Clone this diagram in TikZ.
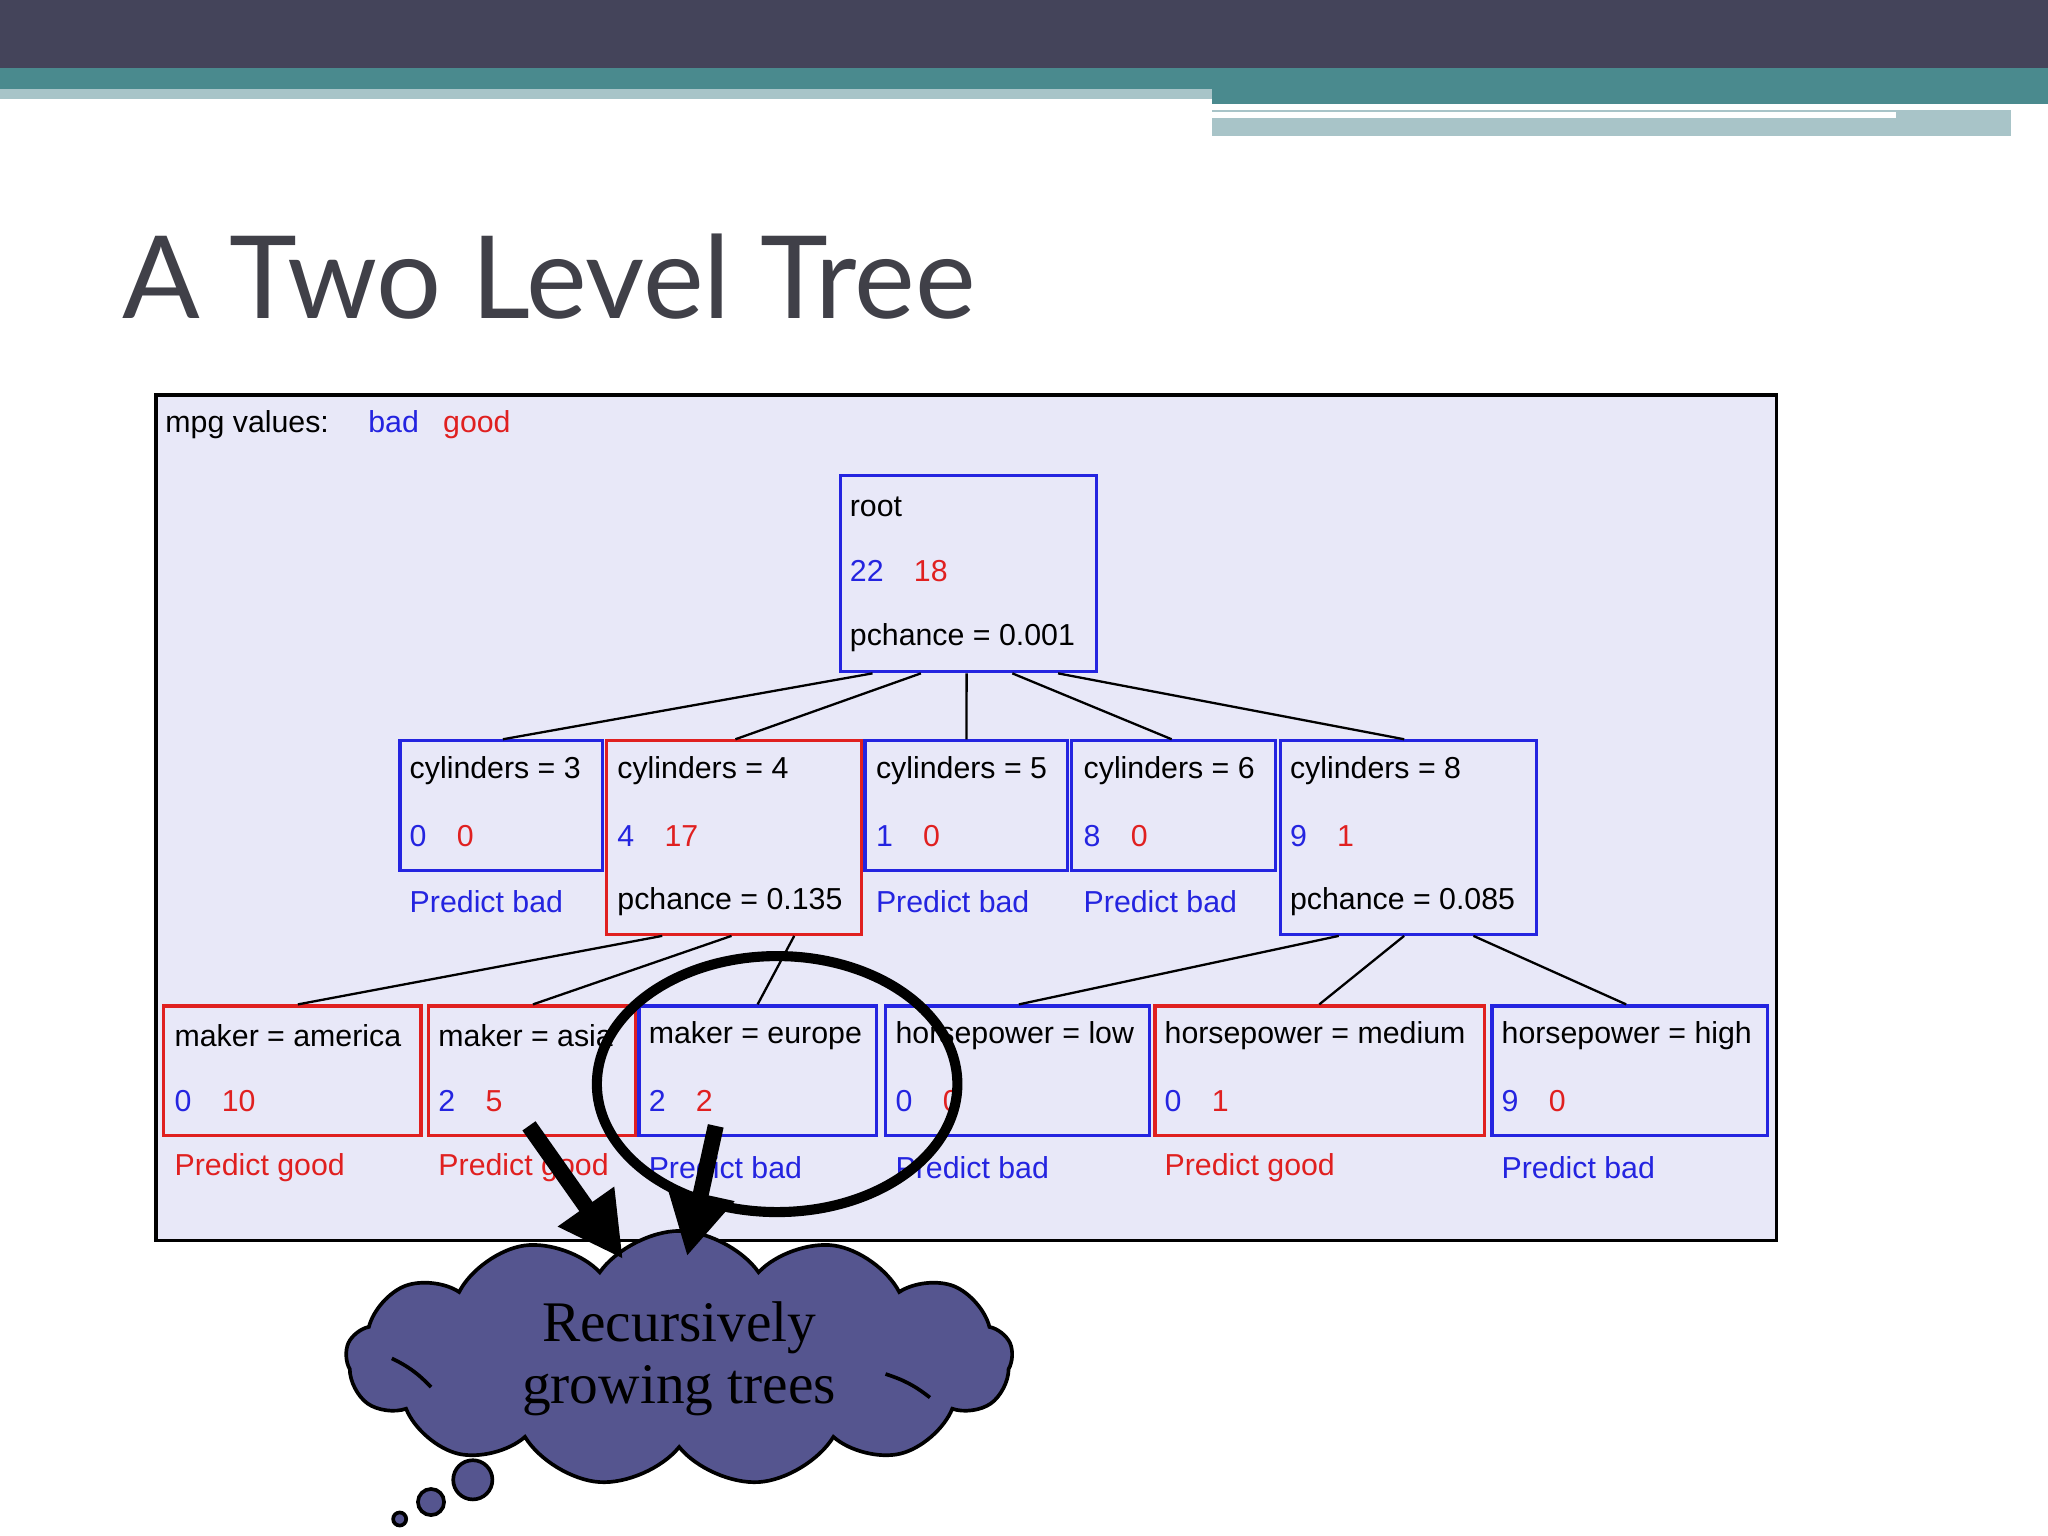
\documentclass[tikz,border=0pt]{standalone}
\usepackage{fontspec}
\setmainfont{Liberation Sans}
\newfontfamily\titlefont{Lato}
\newfontfamily\serifcloud{Liberation Serif}
\usetikzlibrary{shapes.symbols,arrows.meta}
\definecolor{tb}{HTML}{2424E0}
\definecolor{tr}{HTML}{E02020}
\definecolor{panel}{HTML}{E8E8F8}
\definecolor{cloudc}{HTML}{55558F}
\definecolor{hdark}{HTML}{44445A}
\definecolor{hteal}{HTML}{4A8A8E}
\definecolor{hlight}{HTML}{A8C4C8}
\definecolor{ttl}{HTML}{404048}
\tikzset{
 bb/.style={draw=tb,line width=0.7pt,anchor=north west,inner sep=0},
 rb/.style={draw=tr,line width=0.7pt,anchor=north west,inner sep=0},
 tx/.style={anchor=west,font=\fontsize{6.6}{8}\selectfont,inner sep=0},
 edge/.style={line width=0.5pt},
 bigarrow/.style={line width=3.5pt,-{Triangle[length=14pt,width=14pt]}},
}
\newcommand{\tb}[1]{\textcolor{tb}{#1}}
\newcommand{\tr}[1]{\textcolor{tr}{#1}}
\begin{document}
\begin{tikzpicture}[x=0.01cm,y=-0.01cm]
\useasboundingbox (0,0) rectangle (1568,1176);
% header
\fill[hdark] (0,0) rectangle (1568,52);
\fill[hteal] (0,52) rectangle (1568,68);
\fill[hlight] (0,68) rectangle (928,76);
\fill[hteal] (928,68) rectangle (1568,80);
\fill[hlight] (928,84) rectangle (1540,104);
\fill[white] (928,86) rectangle (1452,90);
\node[anchor=west,font=\titlefont\fontsize{25}{30}\selectfont,text=ttl,inner sep=0] (title) at (93,212) {A Two Level Tree};
% panel
\node[draw=black,fill=panel,line width=0.8pt,anchor=north west,minimum width=12.4cm,minimum height=6.47cm,inner sep=0] (panel) at (118,301) {};
\node[tx] (leg) at (126,325) {mpg values:\hspace{1.3em}\tb{bad}\hspace{0.8em}\tr{good}};
% level 0
\node[bb,minimum width=1.96cm,minimum height=1.5cm] (root) at (642,363) {};
\node[tx] at (650,388) {root};
\node[tx] at (650,437) {\tb{22}\hspace{1em}\tr{18}};
\node[tx] at (650,488) {pchance = 0.001};
% level 1
\node[bb,minimum width=1.55cm,minimum height=0.99cm] (c3) at (305,566) {};
\node[rb,minimum width=1.95cm,minimum height=1.48cm] (c4) at (463,566) {};
\node[bb,minimum width=1.55cm,minimum height=0.99cm] (c5) at (661,566) {};
\node[bb,minimum width=1.56cm,minimum height=0.99cm] (c6) at (819,566) {};
\node[bb,minimum width=1.96cm,minimum height=1.48cm] (c8) at (979,566) {};
\node[tx] at (313,590) {cylinders = 3};
\node[tx] at (313,640) {\tb{0}\hspace{1em}\tr{0}};
\node[tx] at (313,690) {\tb{Predict bad}};
\node[tx] at (472,590) {cylinders = 4};
\node[tx] at (472,640) {\tb{4}\hspace{1em}\tr{17}};
\node[tx] at (472,690) {pchance = 0.135};
\node[tx] at (670,590) {cylinders = 5};
\node[tx] at (670,640) {\tb{1}\hspace{1em}\tr{0}};
\node[tx] at (670,690) {\tb{Predict bad}};
\node[tx] at (829,590) {cylinders = 6};
\node[tx] at (829,640) {\tb{8}\hspace{1em}\tr{0}};
\node[tx] at (829,690) {\tb{Predict bad}};
\node[tx] at (987,590) {cylinders = 8};
\node[tx] at (987,640) {\tb{9}\hspace{1em}\tr{1}};
\node[tx] at (987,690) {pchance = 0.085};
% level 2
\node[rb,minimum width=1.97cm,minimum height=0.99cm] (am) at (124,769) {};
\node[rb,minimum width=1.58cm,minimum height=0.99cm] (as) at (327,769) {};
\node[bb,minimum width=1.82cm,minimum height=0.99cm] (eu) at (488,769) {};
\node[bb,minimum width=2.02cm,minimum height=0.99cm] (lo) at (677,769) {};
\node[rb,minimum width=2.52cm,minimum height=0.99cm] (me) at (883,769) {};
\node[bb,minimum width=2.11cm,minimum height=0.99cm] (hi) at (1141,769) {};
\node[tx] at (133,793) {maker = america};
\node[tx] at (133,843) {\tb{0}\hspace{1em}\tr{10}};
\node[tx] at (133,894) {\tr{Predict good}};
\node[tx] at (335,793) {maker = asia};
\node[tx] at (335,843) {\tb{2}\hspace{1em}\tr{5}};
\node[tx] at (335,894) {\tr{Predict good}};
\node[tx] at (496,793) {maker = europe};
\node[tx] at (496,843) {\tb{2}\hspace{1em}\tr{2}};
\node[tx] at (496,894) {\tb{Predict bad}};
\node[tx] at (685,793) {horsepower = low};
\node[tx] at (685,843) {\tb{0}\hspace{1em}\tr{0}};
\node[tx] at (685,894) {\tb{Predict bad}};
\node[tx] at (891,793) {horsepower = medium};
\node[tx] at (891,843) {\tb{0}\hspace{1em}\tr{1}};
\node[tx] at (891,894) {\tr{Predict good}};
\node[tx] at (1149,793) {horsepower = high};
\node[tx] at (1149,843) {\tb{9}\hspace{1em}\tr{0}};
\node[tx] at (1149,894) {\tb{Predict bad}};
% edges
\draw[edge] ([xshift=0.26cm]root.south west) -- ([xshift=0.80cm]c3.north west);
\draw[edge] ([xshift=0.63cm]root.south west) -- ([xshift=1.00cm]c4.north west);
\draw[edge] ([xshift=0.98cm]root.south west) -- ([xshift=0.79cm]c5.north west);
\draw[edge] ([xshift=1.33cm]root.south west) -- ([xshift=0.78cm]c6.north west);
\draw[edge] ([xshift=1.68cm]root.south west) -- ([xshift=0.96cm]c8.north west);
\draw[edge] ([xshift=0.44cm]c4.south west) -- ([xshift=1.04cm]am.north west);
\draw[edge] ([xshift=0.97cm]c4.south west) -- ([xshift=0.81cm]as.north west);
\draw[edge] ([xshift=1.45cm]c4.south west) -- ([xshift=0.92cm]eu.north west);
\draw[edge] ([xshift=0.46cm]c8.south west) -- ([xshift=1.03cm]lo.north west);
\draw[edge] ([xshift=0.96cm]c8.south west) -- ([xshift=1.27cm]me.north west);
\draw[edge] ([xshift=1.49cm]c8.south west) -- ([xshift=1.04cm]hi.north west);
% highlight ellipse
\draw[line width=2.2pt] (595,830) ellipse [x radius=138, y radius=98];
% cloud
\node[cloud,cloud puffs=13,cloud puff arc=110,aspect=2.6,draw=black,fill=cloudc,line width=0.8pt,minimum width=5.1cm,minimum height=1.95cm,inner sep=0,
 align=center,font=\serifcloud\fontsize{12.5}{13.5}\selectfont] (cl) at (520,1040) {Recursively\\growing trees};
\draw[line width=0.8pt] (300,1040) to[bend left=10] (330,1062);
\draw[line width=0.8pt] (678,1052) to[bend left=10] (712,1070);
\draw[draw=black,fill=cloudc,line width=0.8pt] (362,1133) circle (15);
\draw[draw=black,fill=cloudc,line width=0.8pt] (330,1150) circle (10);
\draw[draw=black,fill=cloudc,line width=0.8pt] (306,1163) circle (5);
% arrows
\coordinate (a1) at (405,862);
\coordinate (a2) at (548,862);
\coordinate (t1) at (477,964);
\coordinate (t2) at (526,962);
\draw[bigarrow] (a1) -- (t1);
\draw[bigarrow] (a2) -- (t2);
\end{tikzpicture}
\end{document}
